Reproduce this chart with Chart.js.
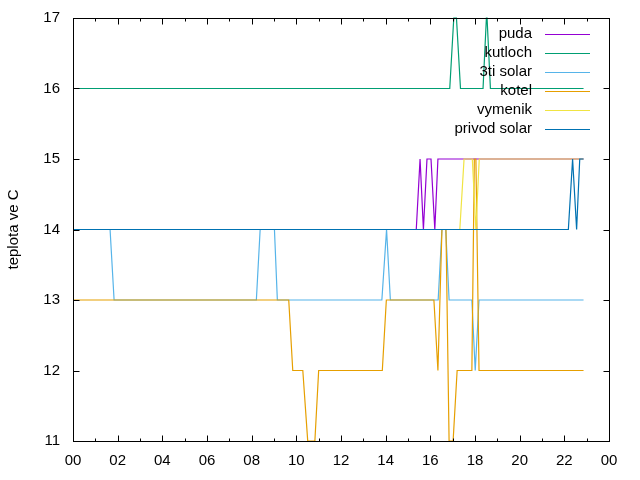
<!DOCTYPE html>
<html>
<head>
<meta charset="utf-8">
<script src="https://cdn.jsdelivr.net/npm/chart.js@4/dist/chart.umd.min.js"></script>
<style>
  html, body { margin: 0; padding: 0; background: #fff; }
  #wrap { width: 640px; height: 480px; }
</style>
</head>
<body>
<div id="wrap"><canvas id="c" width="640" height="480"></canvas></div>
<script>
// ---- data (hours of day, temperature in C) ----
const seriesNames = ['puda', 'kutloch', '3ti solar', 'kotel', 'vymenik', 'privod solar'];
const seriesColors = ['#9400d3', '#009e73', '#56b4e9', '#e69f00', '#f0e442', '#0072b2'];

const pudaT = [0, 15.37, 15.54, 15.69, 15.85, 16.03, 16.20, 16.34, 22.86];
const pudaV = [14, 14, 15, 14, 15, 15, 14, 15, 15];

const kutlochT = [0, 16.87, 17.05, 17.17, 17.35, 18.36, 18.51, 18.54, 18.69, 22.86];
const kutlochV = [16, 16, 17, 17, 16, 16, 17, 17, 16, 16];

const solar3T = [0, 1.66, 1.84, 8.21, 8.38, 9.02, 9.15, 13.83, 14.04, 14.21, 16.35, 16.52, 16.69, 16.84, 17.86, 18.01, 18.18, 22.86];
const solar3V = [14, 14, 13, 13, 14, 14, 13, 13, 14, 13, 13, 14, 14, 13, 13, 12, 13, 13];

const kotelT = [0, 9.66, 9.84, 10.29, 10.51, 10.83, 11.0, 13.85, 14.03, 16.16, 16.34, 16.52, 16.70, 16.84, 17.02, 17.20, 17.86, 17.97, 18.04, 18.18, 22.86];
const kotelV = [13, 13, 12, 12, 11, 11, 12, 12, 13, 13, 12, 14, 14, 11, 11, 12, 12, 15, 15, 12, 12];

const vymenikT = [0, 17.32, 17.51, 17.88, 18.04, 18.19, 22.86];
const vymenikV = [14, 14, 15, 15, 14, 15, 15];

const privodT = [0, 22.18, 22.37, 22.55, 22.69, 22.86];
const privodV = [14, 14, 15, 14, 15, 15];

const xTickLabels = ['00','02','04','06','08','10','12','14','16','18','20','22','00'];
const yTickLabels = ['11','12','13','14','15','16','17'];

// ---- build datasets ----
const allT = [pudaT, kutlochT, solar3T, kotelT, vymenikT, privodT];
const allV = [pudaV, kutlochV, solar3V, kotelV, vymenikV, privodV];
const FONT = '"Liberation Sans", Arial, sans-serif';
const FS = 15;

const datasets = seriesNames.map((name, i) => ({
  label: name,
  data: allT[i].map((t, k) => ({ x: t, y: allV[i][k] })),
  borderColor: seriesColors[i],
  backgroundColor: seriesColors[i],
  borderWidth: 1.2,
  pointRadius: 0,
  tension: 0,
  fill: false,
  order: seriesNames.length - i,
  clip: 1
}));

// ---- frame, ticks, key ----
const framePlugin = {
  id: 'frame',
  afterDatasetsDraw(chart) {
    const ctx = chart.ctx;
    const a = chart.chartArea;
    const xs = chart.scales.x, ys = chart.scales.y;
    const L = Math.round(a.left) + 0.5, R = Math.round(a.right) + 0.5;
    const T = Math.round(a.top) + 0.5, B = Math.round(a.bottom) + 0.5;
    ctx.save();
    ctx.strokeStyle = '#000';
    ctx.lineWidth = 1;
    ctx.beginPath();
    for (let h = 0; h <= 24; h++) {
      const px = Math.round(xs.getPixelForValue(h)) + 0.5;
      const len = (h % 2 === 0) ? 6 : 3;
      ctx.moveTo(px, B); ctx.lineTo(px, B - len);
      ctx.moveTo(px, T); ctx.lineTo(px, T + len);
    }
    for (let v = 11; v <= 17; v++) {
      const py = Math.round(ys.getPixelForValue(v)) + 0.5;
      ctx.moveTo(L, py); ctx.lineTo(L + 6, py);
      ctx.moveTo(R, py); ctx.lineTo(R - 6, py);
    }
    ctx.stroke();
    ctx.strokeRect(L, T, R - L, B - T);

    // key
    ctx.font = FS + 'px ' + FONT;
    ctx.textAlign = 'right';
    ctx.textBaseline = 'middle';
    chart.data.datasets.forEach((ds, i) => {
      const y = 33.5 + i * 19;
      ctx.fillStyle = '#000';
      ctx.fillText(ds.label, 532, y);
      ctx.strokeStyle = ds.borderColor;
      ctx.beginPath();
      ctx.moveTo(545, Math.round(y) + 0.5);
      ctx.lineTo(590, Math.round(y) + 0.5);
      ctx.stroke();
    });
    ctx.restore();
  }
};

new Chart(document.getElementById('c'), {
  type: 'line',
  data: { datasets },
  options: {
    responsive: false,
    animation: false,
    devicePixelRatio: 1,
    layout: { padding: { top: 18, right: 31, left: 0, bottom: 0 } },
    plugins: { legend: { display: false }, tooltip: { enabled: false } },
    scales: {
      x: {
        type: 'linear',
        min: 0, max: 24,
        grid: { display: false, drawTicks: false },
        border: { display: false },
        ticks: {
          stepSize: 2,
          autoSkip: false,
          maxRotation: 0,
          padding: 11,
          color: '#000',
          font: { family: FONT, size: FS },
          callback: (v) => xTickLabels[Math.round(v / 2)]
        },
        afterFit: (s) => { s.height = 39; s.paddingLeft = 0; s.paddingRight = 0; }
      },
      y: {
        type: 'linear',
        min: 11, max: 17,
        grid: { display: false, drawTicks: false },
        border: { display: false },
        ticks: {
          stepSize: 1,
          padding: 13,
          color: '#000',
          font: { family: FONT, size: FS },
          callback: (v) => yTickLabels[Math.round(v - 11)]
        },
        title: {
          display: true,
          text: 'teplota ve C',
          color: '#000',
          font: { family: FONT, size: FS },
          padding: { top: 5, bottom: 0 }
        },
        afterFit: (s) => { s.width = 73; s.paddingTop = 0; s.paddingBottom = 0; }
      }
    }
  },
  plugins: [framePlugin]
});
</script>
</body>
</html>
